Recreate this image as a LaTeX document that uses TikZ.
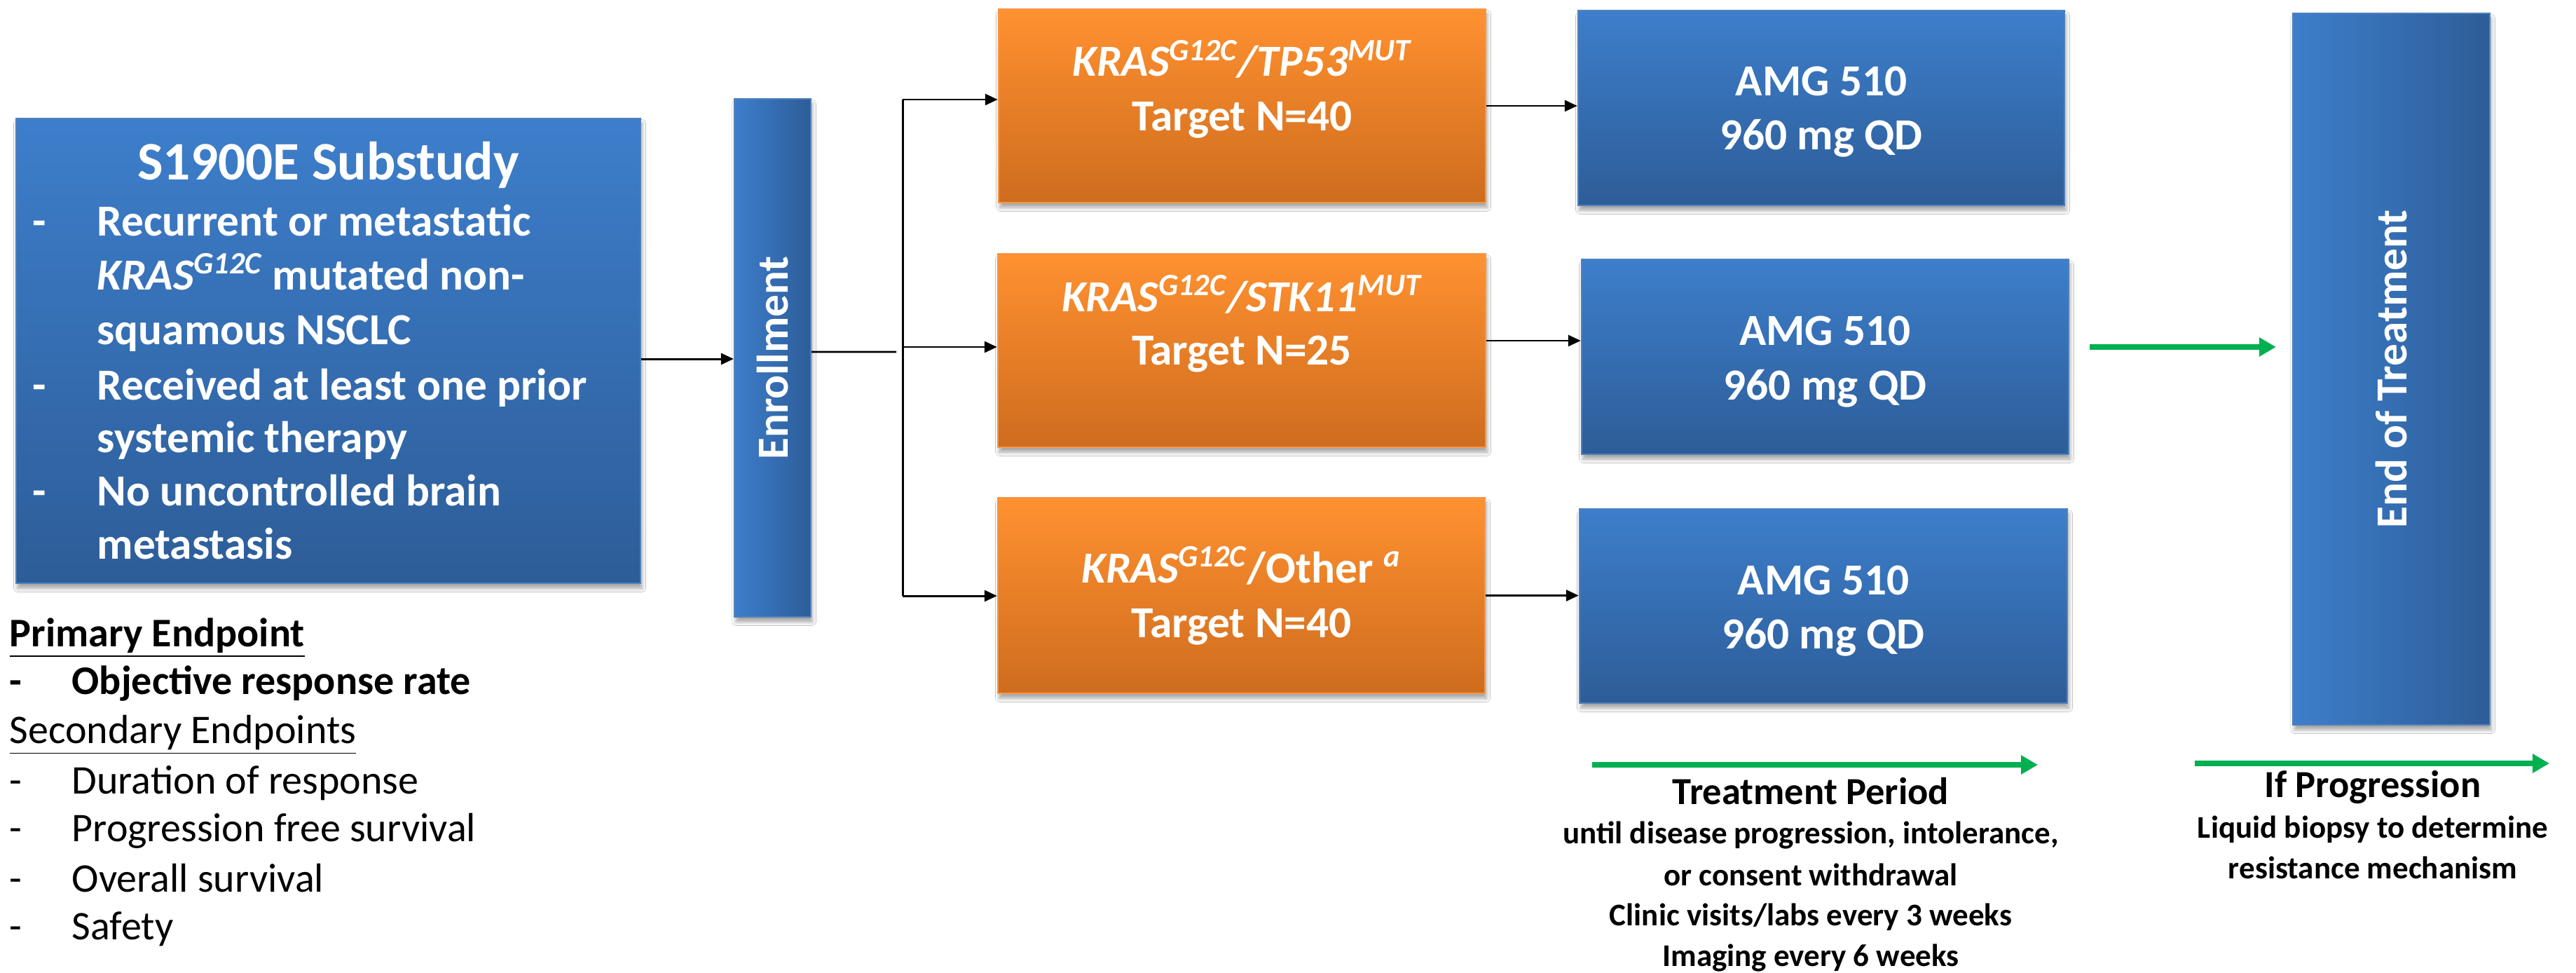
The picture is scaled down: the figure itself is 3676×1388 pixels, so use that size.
\documentclass[tikz,border=0pt]{standalone}
\usepackage{fontspec}
\setmainfont{Carlito}
\usetikzlibrary{arrows.meta,shadows.blur}
\definecolor{blueT}{RGB}{61,126,203}
\definecolor{blueB}{RGB}{45,93,152}
\definecolor{blueE}{RGB}{79,129,189}
\definecolor{orT}{RGB}{255,145,48}
\definecolor{orB}{RGB}{206,108,30}
\definecolor{orE}{RGB}{247,150,70}
\definecolor{grn}{RGB}{0,176,80}
\tikzset{
  shd/.style={blur shadow={shadow xshift=0.6pt, shadow yshift=-2pt, shadow blur steps=6, shadow blur radius=1.5pt, shadow opacity=35}},
  bluebox/.style={rectangle, inner sep=0pt, draw=blueE, line width=0.6pt, top color=blueT, bottom color=blueB, shd},
  bluebar/.style={rectangle, inner sep=0pt, draw=blueE, line width=0.6pt, left color=blueT, right color=blueB, shd},
  orbox/.style={rectangle, inner sep=0pt, draw=orE, line width=0.6pt, top color=orT, bottom color=orB, shd},
  wt/.style={text=white, font=\bfseries\fontsize{18}{21.6}\selectfont, inner sep=0pt, anchor=base},
  wtv/.style={text=white, font=\bfseries\fontsize{18}{21.6}\selectfont, inner sep=0pt, anchor=center, rotate=90},
  lt/.style={text=black, font=\fontsize{16.5}{19.8}\selectfont, inner sep=0pt, anchor=base west},
  ltb/.style={lt, font=\bfseries\fontsize{16.5}{19.8}\selectfont},
  bth/.style={text=black, font=\bfseries\fontsize{15.5}{18.6}\selectfont, inner sep=0pt, anchor=base},
  bt/.style={text=black, font=\bfseries\fontsize{12.8}{15.4}\selectfont, inner sep=0pt, anchor=base},
  ln/.style={draw=black, line width=0.85pt},
  blk/.style={ln, -{Triangle[length=0.18cm,width=0.16cm]}},
  garr/.style={draw=grn, line width=2.3pt, -{Triangle[length=0.24cm,width=0.26cm]}}
}
\begin{document}
\begin{tikzpicture}[x=0.01cm,y=-0.01cm]
\path[use as bounding box, fill=white] (0,0) rectangle (3676,1388);

% S1900E substudy box
\node[bluebox, minimum width=8.91cm, minimum height=6.63cm] (sub) at (468.5,500.5) {};
\node[wt, font=\bfseries\fontsize{22}{26}\selectfont] (subh) at (468.5,257) {S1900E Substudy};
\node[wt, anchor=base west] (sd1) at (46,337) {-};
\node[wt, anchor=base west] (sl1) at (138,337) {Recurrent or metastatic};
\node[wt, anchor=base west] (sl2) at (138,413) {\textit{KRAS\textsuperscript{G12C}} mutated non-};
\node[wt, anchor=base west] (sl3) at (138,491) {squamous NSCLC};
\node[wt, anchor=base west] (sd2) at (46,570) {-};
\node[wt, anchor=base west] (sl4) at (138,570) {Received at least one prior};
\node[wt, anchor=base west] (sl5) at (138,645) {systemic therapy};
\node[wt, anchor=base west] (sd3) at (46,721) {-};
\node[wt, anchor=base west] (sl6) at (138,721) {No uncontrolled brain};
\node[wt, anchor=base west] (sl7) at (138,797) {metastasis};

% Enrollment
\node[bluebar, minimum width=1.09cm, minimum height=7.39cm] (enr) at (1102.5,510.5) {};
\node[wtv] (enrt) at (enr.center) {Enrollment};

% Orange boxes
\node[orbox, minimum width=6.95cm, minimum height=2.76cm] (o1) at (1772.5,151) {};
\node[wt] (o1a) at (1772.5,109) {\itshape KRAS\textsuperscript{G12C}/TP53\textsuperscript{MUT}};
\node[wt] (o1b) at (1772.5,187) {Target N=40};
\node[orbox, minimum width=6.96cm, minimum height=2.76cm] (o2) at (1772,500) {};
\node[wt] (o2a) at (1772,444) {\itshape KRAS\textsuperscript{G12C}/STK11\textsuperscript{MUT}};
\node[wt] (o2b) at (1772,520) {Target N=25};
\node[orbox, minimum width=6.95cm, minimum height=2.79cm] (o3) at (1771.5,849.5) {};
\node[wt] (o3a) at (1771.5,831) {\textit{KRAS\textsuperscript{G12C}}/Other \textsuperscript{\textit{a}}};
\node[wt] (o3b) at (1771.5,909) {Target N=40};

% AMG boxes
\node[bluebox, minimum width=6.94cm, minimum height=2.78cm] (a1) at (2599,154) {};
\node[wt] (a1a) at (2599,137) {AMG 510};
\node[wt] (a1b) at (2599,214) {960 mg QD};
\node[bluebox, minimum width=6.95cm, minimum height=2.78cm] (a2) at (2604.5,509) {};
\node[wt] (a2a) at (2604.5,492) {AMG 510};
\node[wt] (a2b) at (2604.5,570) {960 mg QD};
\node[bluebox, minimum width=6.96cm, minimum height=2.77cm] (a3) at (2602,864.5) {};
\node[wt] (a3a) at (2602,848) {AMG 510};
\node[wt] (a3b) at (2602,925) {960 mg QD};

% End of treatment
\node[bluebar, minimum width=2.81cm, minimum height=10.15cm] (eot) at (3412.5,526.5) {};
\node[wtv] (eott) at (eot.center) {End of Treatment};

% Connectors
\coordinate (j0) at ([yshift=-0.115cm]sub.east);
\draw[blk] (j0) -- (j0 -| enr.west);
\coordinate (e0) at ([yshift=0.085cm]enr.east);
\coordinate (e1) at (1279,502);
\draw[ln] (e0) -- (e1);
\coordinate (t1) at (1288,142);
\coordinate (t2) at (1288,495);
\coordinate (t3) at (1288,850);
\draw[ln] (t1) -- (t3);
\draw[blk] (t1) -- (t1 -| o1.west);
\draw[blk] (t2) -- (t2 -| o2.west);
\draw[blk] (t3) -- (t3 -| o3.west);
\draw[blk] (o1.east) -- (o1.east -| a1.west);
\coordinate (m2) at ([yshift=0.14cm]o2.east);
\draw[blk] (m2) -- (m2 -| a2.west);
\draw[blk] (o3.east) -- (o3.east -| a3.west);

% Green arrows
\coordinate (g1) at (2982,495);
\draw[garr, shorten >=0.23cm] (g1) -- (g1 -| eot.west);
\coordinate (g3) at (2272,1091);
\coordinate (g4) at (2908,1091);
\draw[garr] (g3) -- (g4);
\coordinate (g5) at (3132,1089);
\coordinate (g6) at (3638,1089);
\draw[garr] (g5) -- (g6);

% Bottom texts
\node[bth] (tp) at (2584,1147) {Treatment Period};
\node[bt] (tp1) at (2584,1203) {until disease progression, intolerance,};
\node[bt] (tp2) at (2584,1263) {or consent withdrawal};
\node[bt] (tp3) at (2584,1320) {Clinic visits/labs every 3 weeks};
\node[bt] (tp4) at (2584,1378) {Imaging every 6 weeks};
\node[bth] (ip) at (3386,1137) {If Progression};
\node[bt] (ip1) at (3386,1195) {Liquid biopsy to determine};
\node[bt] (ip2) at (3386,1253) {resistance mechanism};

% Endpoints
\node[ltb] (pe) at (13,922) {\underline{Primary Endpoint}};
\node[ltb] (pd1) at (13,990) {-};
\node[ltb] (pl1) at (102,990) {Objective response rate};
\node[lt] (se) at (13,1060) {\underline{Secondary Endpoints}};
\node[lt] (sd1e) at (13,1132) {-};
\node[lt] (sl1e) at (102,1132) {Duration of response};
\node[lt] (sd2e) at (13,1200) {-};
\node[lt] (sl2e) at (102,1200) {Progression free survival};
\node[lt] (sd3e) at (13,1272) {-};
\node[lt] (sl3e) at (102,1272) {Overall survival};
\node[lt] (sd4e) at (13,1340) {-};
\node[lt] (sl4e) at (102,1340) {Safety};
\end{tikzpicture}
\end{document}
